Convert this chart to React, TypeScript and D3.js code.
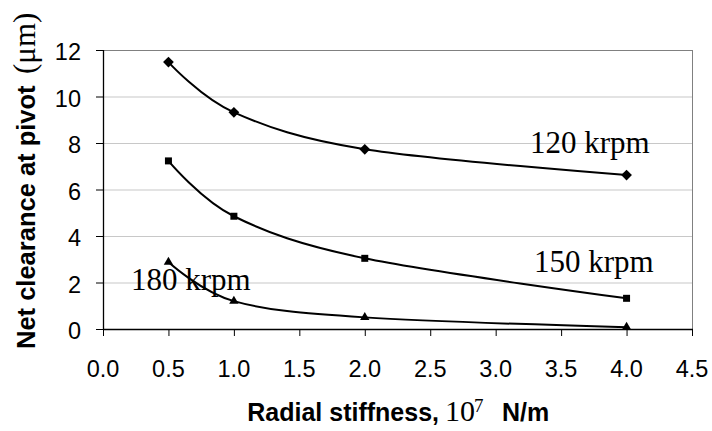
import React from 'react';
import * as d3 from 'd3';

const stiffness = [0.5, 1, 2, 4];
const clearance120 = [11.48, 9.32, 7.73, 6.62];
const clearance150 = [7.23, 4.85, 3.04, 1.32];
const clearance180 = [2.88, 1.2, 0.5, 0.08];
const seriesNames = ['120 krpm', '150 krpm', '180 krpm'];
const xTickValues = [0, 0.5, 1, 1.5, 2, 2.5, 3, 3.5, 4, 4.5];
const yTickValues = [0, 2, 4, 6, 8, 10, 12];

const W = 712;
const H = 431;
const left = 103;
const right = 692;
const top = 50;
const bottom = 329;

const sans = "'Liberation Sans', Arial, Helvetica, sans-serif";
const serif = "'Liberation Serif', 'Times New Roman', Times, serif";

export default function App() {
  const x = d3.scaleLinear().domain([0, 4.5]).range([left, right]);
  const y = d3.scaleLinear().domain([0, 12]).range([bottom, top]);

  const line = d3
    .line<[number, number]>()
    .x((d) => x(d[0]))
    .y((d) => y(d[1]))
    .curve(d3.curveCardinal.tension(0));

  const series = [
    { name: seriesNames[0], values: clearance120, symbol: d3.symbolSquare, size: 58, rotate: 45, labelX: 530, labelY: 153 },
    { name: seriesNames[1], values: clearance150, symbol: d3.symbolSquare, size: 49, rotate: 0, labelX: 534, labelY: 272 },
    { name: seriesNames[2], values: clearance180, symbol: d3.symbolTriangle, size: 38, rotate: 0, labelX: 131, labelY: 290 },
  ];

  return (
    <svg
      width={W}
      height={H}
      style={{ position: 'absolute', left: 0, top: 0, background: '#fff' }}
    >
      <rect x={0} y={0} width={W} height={H} fill="#fff" />
      {yTickValues
        .filter((v) => v > 0 && v < 12)
        .map((v) => (
          <line key={'g' + v} x1={left} x2={right} y1={y(v) + 0.5} y2={y(v) + 0.5} stroke="#c8c8c8" strokeWidth={1.2} />
        ))}
      <line x1={left} x2={right} y1={y(12) + 0.5} y2={y(12) + 0.5} stroke="#808080" strokeWidth={1} />
      <line x1={right + 0.5} x2={right + 0.5} y1={top} y2={bottom} stroke="#808080" strokeWidth={1} />
      <line x1={left + 0.5} x2={left + 0.5} y1={top} y2={bottom + 1} stroke="#000" strokeWidth={1.3} />
      <line x1={left} x2={right + 1} y1={bottom + 0.5} y2={bottom + 0.5} stroke="#000" strokeWidth={1.3} />
      {yTickValues.map((v) => (
        <g key={'yt' + v}>
          <line x1={left - 7} x2={left} y1={y(v) + 0.5} y2={y(v) + 0.5} stroke="#000" strokeWidth={1} />
          <text x={81} y={y(v) + 10} textAnchor="end" fontFamily={sans} fontSize={23.5} fill="#000">
            {v}
          </text>
        </g>
      ))}
      {xTickValues.map((v) => (
        <g key={'xt' + v}>
          <line x1={x(v) + 0.5} x2={x(v) + 0.5} y1={bottom} y2={bottom + 7} stroke="#000" strokeWidth={1} />
          <text x={x(v)} y={377} textAnchor="middle" fontFamily={sans} fontSize={23.5} fill="#000">
            {v.toFixed(1)}
          </text>
        </g>
      ))}
      {series.map((s) => {
        const pts: [number, number][] = stiffness.map((k, i) => [k, s.values[i]]);
        const sym = d3.symbol().type(s.symbol).size(s.size)();
        return (
          <g key={s.name}>
            <path d={line(pts) || ''} fill="none" stroke="#000" strokeWidth={2} />
            {pts.map((p, i) => (
              <path
                key={i}
                d={sym || ''}
                transform={`translate(${x(p[0])},${y(p[1])}) rotate(${s.rotate})`}
                fill="#000"
              />
            ))}
          </g>
        );
      })}
      {series.map((s) => (
        <text key={'l' + s.name} x={s.labelX} y={s.labelY} fontFamily={serif} fontSize={31} fill="#000">
          {s.name}
        </text>
      ))}
      <g transform="translate(35,0) rotate(-90)">
        <text x={-349} y={0} fontFamily={sans} fontWeight="bold" fontSize={25.5} fill="#000">
          Net clearance at pivot
        </text>
        <text x={-74} y={0} fontFamily={serif} fontSize={31} fill="#000">
          (μm)
        </text>
      </g>
      <text x={439} y={421} textAnchor="end" fontFamily={sans} fontWeight="bold" fontSize={25} fill="#000">
        Radial stiffness,
      </text>
      <text x={445} y={421} fontFamily={serif} fontSize={30} fill="#000">
        10
      </text>
      <text x={474} y={412} fontFamily={serif} fontSize={19} fill="#000">
        7
      </text>
      <text x={502} y={421} fontFamily={sans} fontWeight="bold" fontSize={25} fill="#000">
        N/m
      </text>
    </svg>
  );
}
